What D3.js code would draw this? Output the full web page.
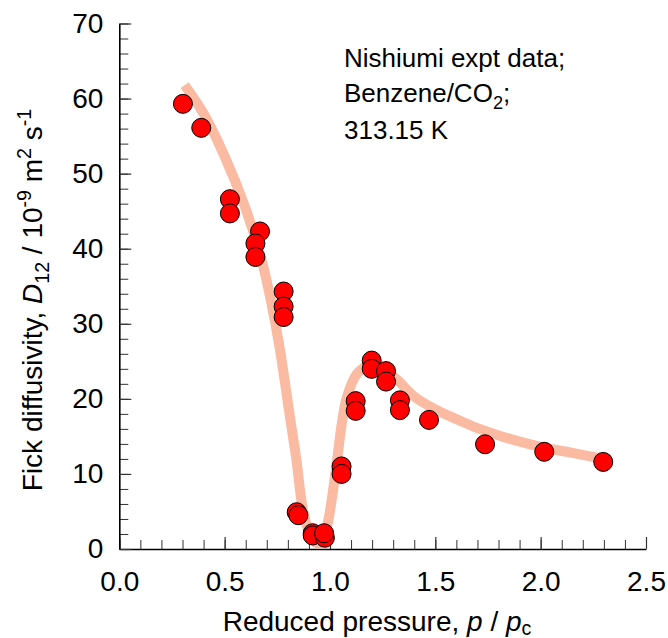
<!DOCTYPE html>
<html>
<head>
<meta charset="utf-8">
<script src="https://cdn.jsdelivr.net/npm/d3@7"></script>
<style>
  html, body { margin: 0; padding: 0; background: #fff; }
  svg { display: block; }
  text { font-family: "Liberation Sans", Arial, Helvetica, sans-serif; fill: #000; }
</style>
</head>
<body>
<svg id="chart" width="668" height="638"></svg>
<script>
// ---- data ----
const pointX = [0.302, 0.389, 0.525, 0.525, 0.668, 0.646, 0.646, 0.780, 0.780, 0.780,
                0.842, 0.850, 0.918, 0.918, 0.976, 0.972, 1.055, 1.055, 1.122, 1.122,
                1.198, 1.198, 1.266, 1.266, 1.332, 1.332, 1.470, 1.736, 2.017, 2.297];
const pointY = [59.3, 56.1, 46.6, 44.7, 42.3, 40.7, 38.9, 34.3, 32.3, 30.9,
                4.9, 4.5, 2.1, 1.8, 1.5, 2.1, 11.0, 10.0, 19.7, 18.4,
                25.1, 24.0, 23.7, 22.3, 19.8, 18.5, 17.2, 13.95, 12.95, 11.6];
const curveX = [0.31, 0.40, 0.50, 0.60, 0.68, 0.72, 0.76, 0.81, 0.84, 0.87, 0.90,
                0.935, 0.965, 0.99, 1.03, 1.055, 1.08, 1.13, 1.19, 1.25, 1.32, 1.40, 1.50,
                1.60, 1.70, 1.85, 2.00, 2.15, 2.30];
const curveY = [61.8, 58.0, 52.3, 45.3, 38.0, 33.0, 27.0, 17.6, 12.0, 5.5, 2.3,
                0.8, 1.0, 3.5, 11.0, 16.5, 20.2, 23.4, 24.5, 24.0, 22.5, 20.3, 18.6,
                17.3, 16.1, 14.7, 13.6, 12.8, 12.0];
const xMajorTicks = [0.0, 0.5, 1.0, 1.5, 2.0, 2.5];
const xMinorTicks = d3.range(0, 26).map(i => i / 10);
const yMajorTicks = [0, 10, 20, 30, 40, 50, 60, 70];
const yMinorTicks = d3.range(0, 36).map(i => i * 2);

// ---- layout ----
const svg = d3.select("#chart");
const x = d3.scaleLinear().domain([0, 2.5]).range([119.3, 646]);
const y = d3.scaleLinear().domain([0, 70]).range([549, 23.5]);
const FS = 26;     // annotation
const TFS = 28;    // tick labels / axis titles

// minor ticks
svg.append("g").attr("transform", `translate(0,${y(0)})`)
  .call(d3.axisBottom(x).tickValues(xMinorTicks).tickSizeInner(-9).tickSizeOuter(0).tickFormat(""))
  .call(g => g.select(".domain").remove())
  .call(g => g.selectAll("line").attr("stroke", "#333").attr("stroke-width", 1));
svg.append("g").attr("transform", `translate(${x(0)},0)`)
  .call(d3.axisLeft(y).tickValues(yMinorTicks).tickSizeInner(-9).tickSizeOuter(0).tickFormat(""))
  .call(g => g.select(".domain").remove())
  .call(g => g.selectAll("line").attr("stroke", "#333").attr("stroke-width", 1));

// major ticks + labels
const xAxis = svg.append("g").attr("transform", `translate(0,${y(0)})`)
  .call(d3.axisBottom(x).tickValues(xMajorTicks).tickSizeInner(-12).tickSizeOuter(0)
    .tickPadding(22).tickFormat(d3.format(".1f")));
xAxis.select(".domain").attr("stroke", "#000").attr("stroke-width", 1.6);
xAxis.selectAll("line").attr("stroke", "#333").attr("stroke-width", 1.2);
xAxis.selectAll("text").attr("font-size", TFS).attr("font-family", null);

const yAxis = svg.append("g").attr("transform", `translate(${x(0)},0)`)
  .call(d3.axisLeft(y).tickValues(yMajorTicks).tickSizeInner(-12).tickSizeOuter(0)
    .tickPadding(16).tickFormat(d3.format("d")));
yAxis.select(".domain").attr("stroke", "#000").attr("stroke-width", 1.6);
yAxis.selectAll("line").attr("stroke", "#333").attr("stroke-width", 1.2);
yAxis.selectAll("text").attr("font-size", TFS).attr("font-family", null);

// curve
const line = d3.line().x((d, i) => x(curveX[i])).y((d, i) => y(curveY[i]))
  .curve(d3.curveCatmullRom.alpha(0.5));
svg.append("path").datum(curveY).attr("d", line)
  .attr("fill", "none").attr("stroke", "#FBBAA2").attr("stroke-width", 10)
  .attr("stroke-linecap", "butt");

// points
svg.append("g").selectAll("circle").data(pointX).join("circle")
  .attr("cx", d => x(d)).attr("cy", (d, i) => y(pointY[i])).attr("r", 9.5)
  .attr("fill", "#FF0000").attr("stroke", "#000").attr("stroke-width", 1);

// annotation
const ann = svg.append("g").attr("font-size", FS);
ann.append("text").attr("x", 344).attr("y", 66.5).text("Nishiumi expt data;");
const t2 = ann.append("text").attr("x", 344).attr("y", 101.5);
t2.append("tspan").text("Benzene/CO");
t2.append("tspan").attr("font-size", FS * 0.7).attr("dy", 7).text("2");
t2.append("tspan").attr("dy", -7).text(";");
ann.append("text").attr("x", 344).attr("y", 138.5).text("313.15 K");

// x title
const xt = svg.append("text").attr("x", 377).attr("y", 631).attr("text-anchor", "middle")
  .attr("font-size", TFS);
xt.append("tspan").text("Reduced pressure, ");
xt.append("tspan").attr("font-style", "italic").text("p");
xt.append("tspan").text(" / ");
xt.append("tspan").attr("font-style", "italic").text("p");
xt.append("tspan").attr("font-size", TFS * 0.7).attr("dy", 4).text("c");

// y title
const yt = svg.append("text").attr("transform", "translate(42,300) rotate(-90)")
  .attr("text-anchor", "middle").attr("font-size", TFS);
yt.append("tspan").text("Fick diffusivity, ");
yt.append("tspan").attr("font-style", "italic").text("D");
yt.append("tspan").attr("font-size", TFS * 0.7).attr("dy", 7).text("12");
yt.append("tspan").attr("dy", -7).text(" / 10");
yt.append("tspan").attr("font-size", TFS * 0.7).attr("dy", -11).text("-9");
yt.append("tspan").attr("dy", 11).text(" m");
yt.append("tspan").attr("font-size", TFS * 0.7).attr("dy", -11).text("2");
yt.append("tspan").attr("dy", 11).text(" s");
yt.append("tspan").attr("font-size", TFS * 0.7).attr("dy", -11).text("-1");
</script>
</body>
</html>
